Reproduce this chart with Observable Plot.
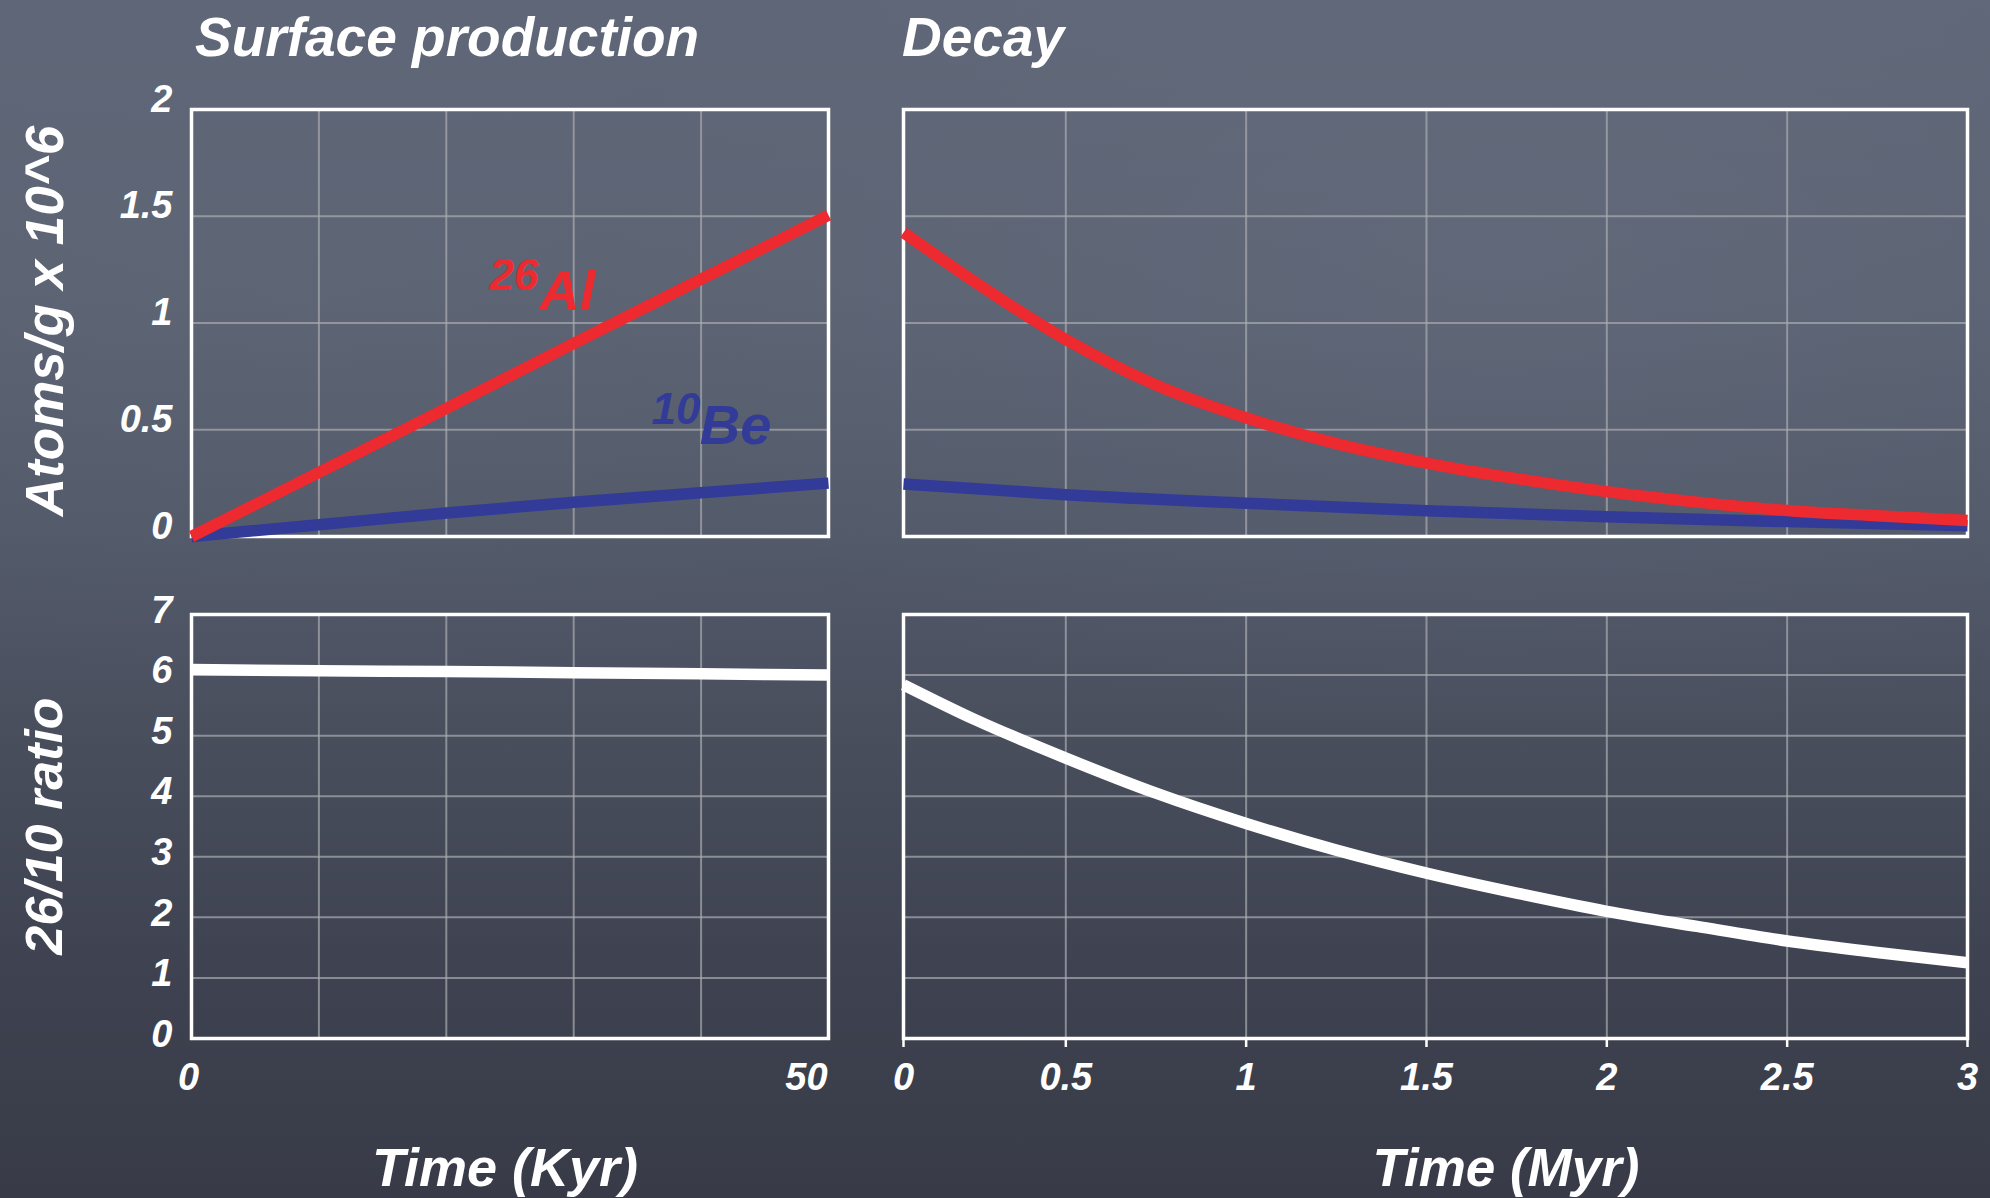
<!DOCTYPE html>
<html>
<head>
<meta charset="utf-8">
<script src="https://cdn.jsdelivr.net/npm/d3@7"></script>
<script src="https://cdn.jsdelivr.net/npm/@observablehq/plot@0.6"></script>
<style>
  html, body { margin: 0; padding: 0; overflow: hidden; background: #4a505e; }
  #stage {
    position: relative; width: 1990px; height: 1198px; overflow: hidden;
    background:
      radial-gradient(ellipse 900px 500px at 1500px 250px, rgba(120,130,150,0.18), rgba(0,0,0,0)),
      radial-gradient(ellipse 800px 400px at 300px 300px, rgba(110,118,135,0.12), rgba(0,0,0,0)),
      linear-gradient(180deg, #5f6677 0%, #5b6272 25%, #525969 45%, #474c5a 65%, #3e4250 82%, #383b47 100%);
    font-family: "Liberation Sans", Arial, sans-serif; font-weight: bold; font-style: italic; color: #ffffff;
  }
  .layer { position: absolute; left: 0; top: 0; }
  .lbl { position: absolute; white-space: nowrap; line-height: 1; }
</style>
</head>
<body>
<div id="stage"></div>
<script>
// ---------- data ----------
// Surface production (time in kyr)
const surfaceT     = [0, 10, 20, 30, 40, 50];
const surfaceAl    = [0, 0.30, 0.60, 0.905, 1.205, 1.505];
const surfaceBe    = [0, 0.055, 0.11, 0.16, 0.205, 0.25];
const surfaceRatio = [6.09, 6.07, 6.06, 6.04, 6.02, 6.0];

// Decay (time in Myr)
const decayT       = [0.05, 0.25, 0.5, 0.75, 1.0, 1.25, 1.5, 1.75, 2.0, 2.25, 2.5, 2.75, 3.0];
const decayAl      = [1.424, 1.19, 0.923, 0.71, 0.556, 0.435, 0.344, 0.271, 0.21, 0.161, 0.122, 0.097, 0.075];
const decayBeT     = [0.05, 0.5, 1.0, 1.5, 2.0, 2.5, 3.0];
const decayBe      = [0.246, 0.196, 0.156, 0.121, 0.092, 0.070, 0.05];
const decayRatio   = [5.84, 5.26, 4.63, 4.05, 3.55, 3.11, 2.73, 2.40, 2.10, 1.85, 1.61, 1.42, 1.25];

// Axis ticks and labels
const topYTicks       = [0, 0.5, 1, 1.5, 2];
const topYLabels      = ["0", "0.5", "1", "1.5", "2"];
const ratioYTicks     = [0, 1, 2, 3, 4, 5, 6, 7];
const ratioYLabels    = ["0", "1", "2", "3", "4", "5", "6", "7"];
const kyrGrid         = [10, 20, 30, 40];
const kyrLabelTicks   = [0, 50];
const kyrLabels       = ["0", "50"];
const myrTicks        = [0.05, 0.5, 1, 1.5, 2, 2.5, 3];
const myrLabels       = ["0", "0.5", "1", "1.5", "2", "2.5", "3"];
const myrGrid         = [0.5, 1, 1.5, 2, 2.5];

// Isotope annotations in the production panel (data units)
const isoSup   = ["26", "10"];
const isoSupX  = [23.4, 36.1];
const isoSupY  = [1.156, 0.528];
const isoName  = ["Al", "Be"];
const isoNameX = [27.3, 39.9];
const isoNameY = [1.062, 0.434];
const isoColor = ["#ec2a2f", "#323b98"];

// ---------- styling ----------
const RED = "#ec2a2f", BLUE = "#323b98", WHITE = "#ffffff", GRID = "#a9abb1";
const FONT = '"Liberation Sans", Arial, sans-serif';
const W = 1990, H = 1198;
const stage = document.getElementById("stage");

const toRows = (xs, ys) => xs.map((x, i) => ({x, y: ys[i]}));

function panel({left, right, top, bottom, x, y, marks}) {
  const svg = Plot.plot({
    width: W, height: H,
    marginLeft: left, marginRight: W - right, marginTop: top, marginBottom: H - bottom,
    x: {...x, axis: null, label: null},
    y: {...y, axis: null, label: null},
    style: {background: "transparent", color: WHITE, fontFamily: FONT, fontSize: "38px",
            fontWeight: "bold", fontStyle: "italic", overflow: "visible", maxWidth: "none"},
    marks
  });
  svg.classList.add("layer");
  svg.style.position = "absolute";
  svg.style.left = "0px";
  svg.style.top = "0px";
  stage.appendChild(svg);
  return svg;
}

const gridStyle = {stroke: GRID, strokeOpacity: 0.7, strokeWidth: 2};
const lineStyle = {strokeWidth: 11.5, strokeLinecap: "butt", strokeLinejoin: "round", curve: "monotone-x"};

const LX0 = 191, LX1 = 828, RX0 = 903, RX1 = 1967;
const TY0 = 109, TY1 = 536, BY0 = 614, BY1 = 1038;

// Top-left: Surface production, atoms
panel({
  left: LX0, right: LX1, top: TY0, bottom: TY1,
  x: {domain: [0, 50]}, y: {domain: [0, 2]},
  marks: [
    Plot.gridX(kyrGrid, gridStyle),
    Plot.gridY([0.5, 1, 1.5], gridStyle),
    Plot.axisY(topYTicks, {tickSize: 0, tickPadding: 19, dy: -10, fontSize: 38, label: null,
      tickFormat: (d, i) => topYLabels[i]}),
    Plot.frame({stroke: WHITE, strokeWidth: 3.5}),
    Plot.line(toRows(surfaceT, surfaceBe), {x: "x", y: "y", stroke: BLUE, ...lineStyle}),
    Plot.line(toRows(surfaceT, surfaceAl), {x: "x", y: "y", stroke: RED, ...lineStyle}),
    Plot.text(isoSup.map((t, i) => ({t, x: isoSupX[i], y: isoSupY[i], c: isoColor[i]})),
      {x: "x", y: "y", text: "t", fill: "c", fontSize: 44, fontWeight: "bold", fontStyle: "italic",
       textAnchor: "start", lineAnchor: "bottom"}),
    Plot.text(isoName.map((t, i) => ({t, x: isoNameX[i], y: isoNameY[i], c: isoColor[i]})),
      {x: "x", y: "y", text: "t", fill: "c", fontSize: 56, fontWeight: "bold", fontStyle: "italic",
       textAnchor: "start", lineAnchor: "bottom"})
  ]
});

// Top-right: Decay, atoms
panel({
  left: RX0, right: RX1, top: TY0, bottom: TY1,
  x: {domain: [0.05, 3]}, y: {domain: [0, 2]},
  marks: [
    Plot.gridX(myrGrid, gridStyle),
    Plot.gridY([0.5, 1, 1.5], gridStyle),
    Plot.frame({stroke: WHITE, strokeWidth: 3.5}),
    Plot.line(toRows(decayBeT, decayBe), {x: "x", y: "y", stroke: BLUE, ...lineStyle}),
    Plot.line(toRows(decayT, decayAl), {x: "x", y: "y", stroke: RED, ...lineStyle})
  ]
});

// Bottom-left: Surface production, ratio
panel({
  left: LX0, right: LX1, top: BY0, bottom: BY1,
  x: {domain: [0, 50]}, y: {domain: [0, 7]},
  marks: [
    Plot.gridX(kyrGrid, gridStyle),
    Plot.gridY([1, 2, 3, 4, 5, 6], gridStyle),
    Plot.axisY(ratioYTicks, {tickSize: 0, tickPadding: 19, dy: -4, fontSize: 38, label: null,
      tickFormat: (d, i) => ratioYLabels[i]}),
    Plot.axisX([kyrLabelTicks[0]], {tickSize: 0, tickPadding: 25, dx: -3, fontSize: 38, label: null,
      tickFormat: () => kyrLabels[0]}),
    Plot.axisX([kyrLabelTicks[1]], {tickSize: 0, tickPadding: 25, dx: -22, fontSize: 38, label: null,
      tickFormat: () => kyrLabels[1]}),
    Plot.frame({stroke: WHITE, strokeWidth: 3.5}),
    Plot.line(toRows(surfaceT, surfaceRatio), {x: "x", y: "y", stroke: WHITE, ...lineStyle})
  ]
});

// Bottom-right: Decay, ratio
panel({
  left: RX0, right: RX1, top: BY0, bottom: BY1,
  x: {domain: [0.05, 3]}, y: {domain: [0, 7]},
  marks: [
    Plot.gridX(myrGrid, gridStyle),
    Plot.gridY([1, 2, 3, 4, 5, 6], gridStyle),
    Plot.axisX(myrTicks, {tickSize: 9, tickPadding: 16, stroke: WHITE, strokeWidth: 2.5, fontSize: 38,
      label: null, tickFormat: (d, i) => myrLabels[i]}),
    Plot.frame({stroke: WHITE, strokeWidth: 3.5}),
    Plot.line(toRows(decayT, decayRatio), {x: "x", y: "y", stroke: WHITE, ...lineStyle})
  ]
});

// ---------- titles and axis titles ----------
function label(text, cx, cy, size, rotate, anchorLeft) {
  const d = document.createElement("div");
  d.className = "lbl";
  d.textContent = text;
  d.style.fontSize = size + "px";
  d.style.left = cx + "px";
  d.style.top = cy + "px";
  d.style.transform = anchorLeft ? "translate(0,-50%)" : `translate(-50%,-50%)${rotate ? " rotate(" + rotate + "deg)" : ""}`;
  stage.appendChild(d);
}
label("Surface production", 195, 37, 55, 0, true);
label("Decay", 902, 37, 55, 0, true);
label("Time (Kyr)", 505, 1167, 54, 0, false);
label("Time (Myr)", 1506, 1167, 53, 0, false);
label("Atoms/g x 10^6", 44, 321, 53, -90, false);
label("26/10 ratio", 44, 826, 52, -90, false);
</script>
</body>
</html>
